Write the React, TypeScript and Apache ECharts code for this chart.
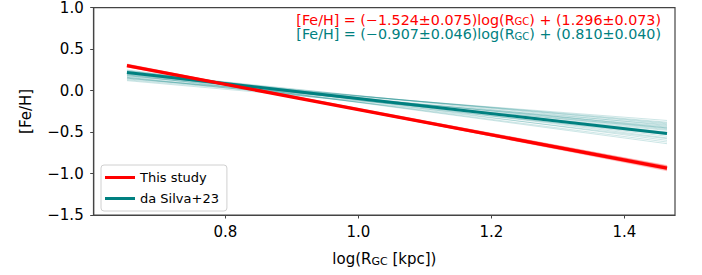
import React, { useEffect, useRef } from "react";
import * as echarts from "echarts";

// x extent of the fitted relations (log R_GC)
const lineX = [0.652, 1.464];
// main fits: [y at start, y at end]
const redMain = [0.302, -0.935];
const tealMain = [0.219, -0.518];
// bootstrap sample lines (start / end values)
const redSampleStart = [0.285, 0.29, 0.295, 0.3, 0.305, 0.31, 0.315, 0.32, 0.298, 0.306];
const redSampleEnd = [-0.905, -0.915, -0.93, -0.945, -0.955, -0.92, -0.94, -0.965, -0.95, -0.91];
const tealSampleStart = [0.25, 0.24, 0.23, 0.22, 0.21, 0.2, 0.19, 0.18, 0.17, 0.16, 0.15, 0.14, 0.13, 0.24, 0.19, 0.16, 0.22, 0.12, 0.2, 0.18, 0.23, 0.15];
const tealSampleEnd = [-0.6, -0.57, -0.45, -0.55, -0.42, -0.5, -0.4, -0.47, -0.38, -0.44, -0.48, -0.36, -0.41, -0.52, -0.58, -0.53, -0.62, -0.45, -0.46, -0.39, -0.64, -0.43];
const xTicks = [0.8, 1.0, 1.2, 1.4];
const legendNames = ["This study", "da Silva+23"];

const RED = "#ff0000";
const TEAL = "#008080";
const FONT = "DejaVu Sans";

export default function App() {
  const ref = useRef<HTMLDivElement>(null);
  useEffect(() => {
    if (!ref.current) return;
    const chart = echarts.init(ref.current, null, { renderer: "svg" });
    const pts = (ys: number[]) => lineX.map((x, i) => [x, ys[i]]);
    const series: any[] = [];
    tealSampleStart.forEach((s, i) => {
      series.push({
        type: "line",
        data: pts([s, tealSampleEnd[i]]),
        showSymbol: false,
        silent: true,
        lineStyle: { color: TEAL, width: 1, opacity: 0.2 },
      });
    });
    redSampleStart.forEach((s, i) => {
      series.push({
        type: "line",
        data: pts([s, redSampleEnd[i]]),
        showSymbol: false,
        silent: true,
        lineStyle: { color: RED, width: 1.2, opacity: 0.2 },
      });
    });
    series.push({
      name: legendNames[1],
      type: "line",
      data: pts(tealMain),
      showSymbol: false,
      itemStyle: { color: TEAL },
      lineStyle: { color: TEAL, width: 3 },
    });
    series.push({
      name: legendNames[0],
      type: "line",
      data: pts(redMain),
      showSymbol: false,
      itemStyle: { color: RED },
      lineStyle: { color: RED, width: 3.3 },
    });

    const eqRich = (color: string) => ({
      t: { fontFamily: FONT, fontSize: 14.3, fill: color, lineHeight: 13 },
      s: { fontFamily: FONT, fontSize: 10, fill: color, lineHeight: 13, padding: [4, 0, 0, 0] },
    });

    chart.setOption({
      animation: false,
      grid: {
        left: 93.7,
        top: 7.7,
        right: 27,
        bottom: 60,
        show: true,
        borderColor: "#444",
        borderWidth: 1.2,
        backgroundColor: "transparent",
      },
      legend: {
        data: legendNames,
        orient: "vertical",
        left: 101,
        top: 165,
        icon: "rect",
        itemWidth: 30,
        itemHeight: 3,
        itemGap: 8,
        padding: [6, 8, 6, 4],
        borderColor: "#d0d0d0",
        borderWidth: 1,
        borderRadius: 3,
        backgroundColor: "#fff",
        textStyle: { fontFamily: FONT, fontSize: 13, color: "#000" },
      },
      xAxis: {
        type: "value",
        min: 0.602,
        max: 1.476,
        name: "{t|log(R}{s|GC}{t| [kpc])}",
        nameLocation: "middle",
        nameGap: 35,
        nameTextStyle: {
          rich: {
            t: { fontFamily: FONT, fontSize: 15, color: "#000" },
            s: { fontFamily: FONT, fontSize: 11, color: "#000", padding: [6, 0, 0, 0] },
          },
        },
        axisLine: { show: true, onZero: false, lineStyle: { color: "#444", width: 1.2 } },
        axisTick: { show: true, length: 3.5, customValues: xTicks, lineStyle: { color: "#444" } },
        axisLabel: {
          customValues: xTicks,
          margin: 9,
          fontFamily: FONT,
          fontSize: 15,
          color: "#000",
          formatter: (v: number) => v.toFixed(1),
        },
        splitLine: { show: false },
      },
      yAxis: {
        type: "value",
        min: -1.5,
        max: 1.0,
        interval: 0.5,
        name: "[Fe/H]",
        nameLocation: "middle",
        nameGap: 60,
        nameTextStyle: { fontFamily: FONT, fontSize: 15, color: "#000" },
        axisLine: { show: true, onZero: false, lineStyle: { color: "#444", width: 1.2 } },
        axisTick: { show: true, length: 3.5, lineStyle: { color: "#444" } },
        axisLabel: {
          margin: 10,
          fontFamily: FONT,
          fontSize: 15,
          color: "#000",
          formatter: (v: number) => v.toFixed(1).replace("-", "\u2212"),
        },
        splitLine: { show: false },
      },
      graphic: [
        {
          type: "text",
          right: 702 - 661,
          top: 12.5,
          style: {
            text: "{t|[Fe/H] = (\u22121.524\u00b10.075)log(R}{s|GC}{t|) + (1.296\u00b10.073)}",
            rich: eqRich(RED),
          },
        },
        {
          type: "text",
          right: 702 - 661,
          top: 27,
          style: {
            text: "{t|[Fe/H] = (\u22120.907\u00b10.046)log(R}{s|GC}{t|) + (0.810\u00b10.040)}",
            rich: eqRich(TEAL),
          },
        },
      ],
      series,
    });
    return () => chart.dispose();
  }, []);
  return (
    <div
      ref={ref}
      style={{ position: "absolute", left: 0, top: 0, width: 702, height: 275 }}
    />
  );
}
